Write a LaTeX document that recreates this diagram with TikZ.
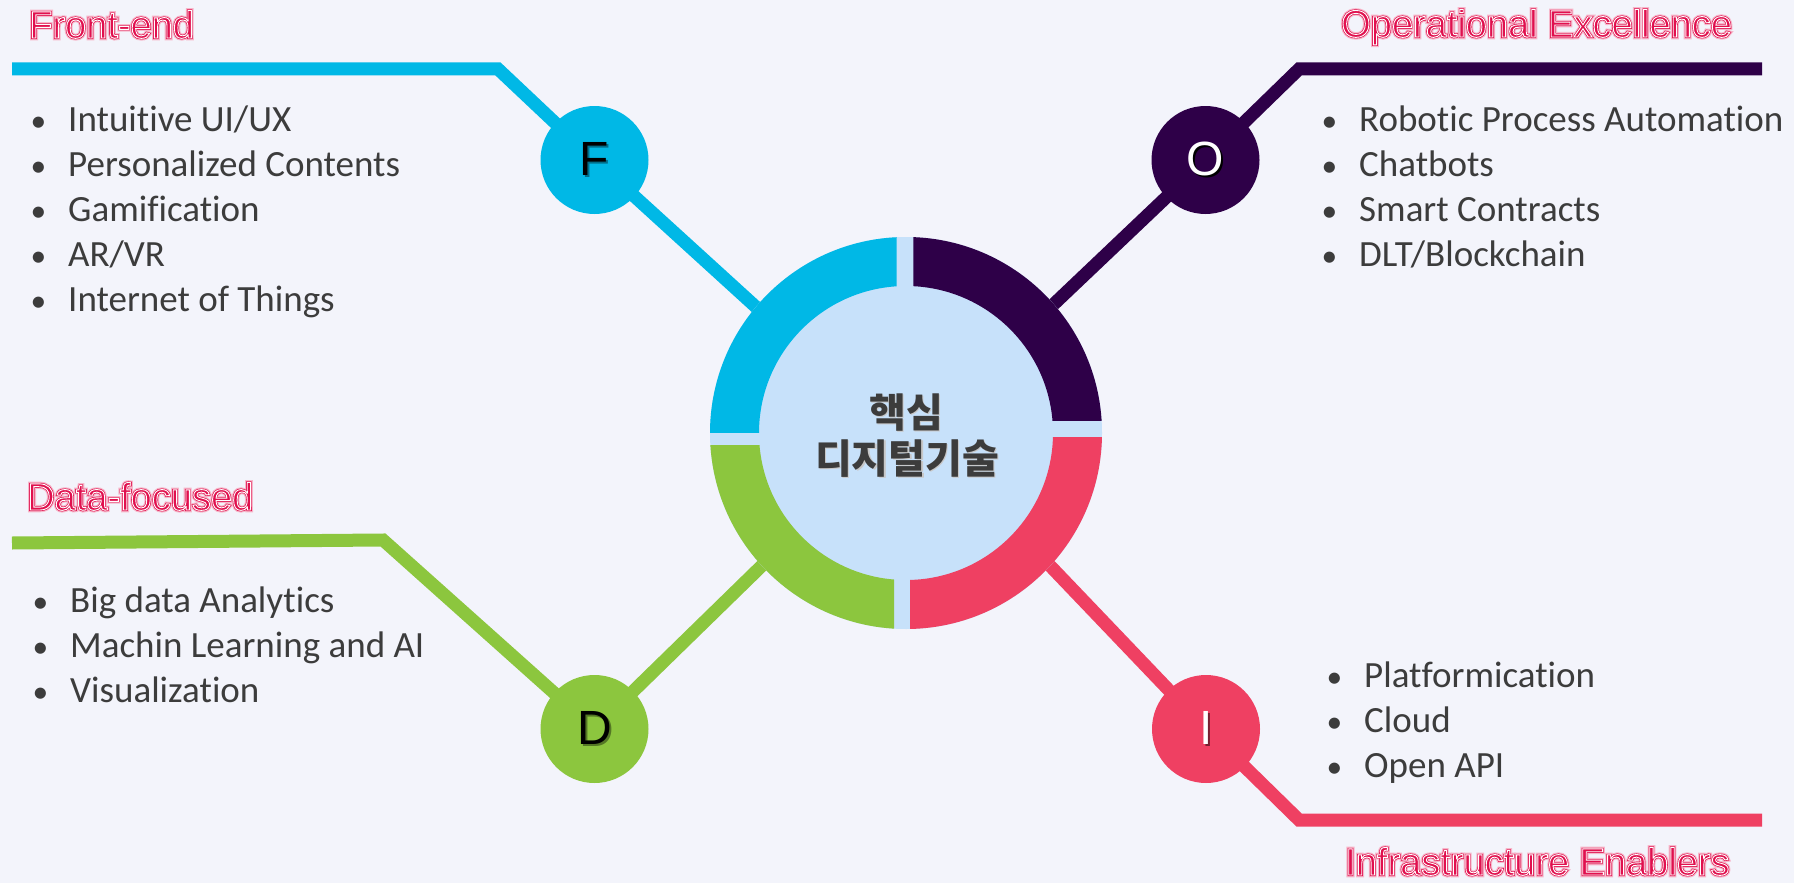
\documentclass[tikz,border=0pt]{standalone}
\usepackage{fontspec}
\setmainfont{Carlito}[Ligatures=NoCommon]
\newfontfamily\arialf{Liberation Sans}
\newfontfamily\kr{Noto Sans CJK KR}
\definecolor{bg}{HTML}{F3F4FB}
\definecolor{fcol}{HTML}{00B8E6}
\definecolor{ocol}{HTML}{2E0048}
\definecolor{icol}{HTML}{EF4062}
\definecolor{dcol}{HTML}{8CC63E}
\definecolor{inner}{HTML}{C7E1FA}
\definecolor{txtgray}{HTML}{3C3C3C}
\definecolor{titlered}{HTML}{E0104E}
\newcommand\bul{\makebox[0pt][r]{\scalebox{0.85}{\textbullet}\hspace{22pt}}}
\newcommand\shadowed[2]{\makebox[0pt][l]{\hspace{2pt}\raisebox{-2pt}{\textcolor{#1}{#2}}}#2}
% outlined word-art title: pink glow, red rim, white inner line, red fill
\newcommand\strokedtext[3]{\special{pdf:literal direct 2 Tr #2 w #3}#1\special{pdf:literal direct 0 Tr}}
\newcommand\wordart[1]{%
  \makebox[0pt][l]{\textcolor{titlered!30}{\strokedtext{#1}{4.5}{}}}%
  \makebox[0pt][l]{\strokedtext{#1}{2.2}{}}%
  \strokedtext{#1}{0.9}{1 1 1 RG}}
\begin{document}
\begin{tikzpicture}[x=1pt,y=-1pt,
  branch/.style={line width=13pt, line join=miter, line cap=butt},
  bubble/.style={circle, minimum size=108pt, inner sep=0pt, font=\arialf\fontsize{48}{58}\selectfont},
  item/.style={anchor=base west, inner sep=0pt, text=txtgray, font=\fontsize{37}{44}\selectfont},
  ttl/.style={anchor=base west, inner sep=0pt, text=titlered, font=\arialf\fontsize{38}{46}\selectfont},
  core/.style={anchor=base, inner sep=0pt, text=txtgray, font=\kr\bfseries\fontsize{40}{48}\selectfont}]
\useasboundingbox[fill=bg] (0,0) rectangle (1794,883);

% key points
\coordinate (cF) at (594.5,160);
\coordinate (cO) at (1205.5,160);
\coordinate (cD) at (594.5,729);
\coordinate (cI) at (1206,729);
\coordinate (ctr) at (906,433);
\coordinate (fL) at (12,69);   \coordinate (fB) at (498,69);   \coordinate (fE) at (790,338);
\coordinate (oR) at (1762,69); \coordinate (oB) at (1299,69);  \coordinate (oE) at (1035,322);
\coordinate (iR) at (1762,820);\coordinate (iB) at (1299,820); \coordinate (iE) at (1035,550);
\coordinate (dL) at (12,543);  \coordinate (dB) at (383,540);  \coordinate (dE) at (780,548);

% branches
\draw[branch, fcol] (fL) -- (fB) -- (cF) -- (fE);
\draw[branch, ocol] (oR) -- (oB) -- (cO) -- (oE);
\draw[branch, icol] (iR) -- (iB) -- (cI) -- (iE);
\draw[branch, dcol] (dL) -- (dB) -- (cD) -- (dE);

% central ring
\node[circle, fill=inner, minimum size=392pt, inner sep=0pt] (ring) at (ctr) {};
\begin{scope}
  \clip (600,130) rectangle (896.7,432.7);
  \fill[fcol, even odd rule] (ctr) circle (196pt) (ctr) circle (147pt);
\end{scope}
\begin{scope}
  \clip (913.3,130) rectangle (1210,420);
  \fill[ocol, even odd rule] (ctr) circle (196pt) (ctr) circle (147pt);
\end{scope}
\begin{scope}
  \clip (910,437.3) rectangle (1210,740);
  \fill[icol, even odd rule] (ctr) circle (196pt) (ctr) circle (147pt);
\end{scope}
\begin{scope}
  \clip (600,445) rectangle (894,740);
  \fill[dcol, even odd rule] (ctr) circle (196pt) (ctr) circle (147pt);
\end{scope}
\node[core, text=black!22] at (907.5,428.5) {핵심};
\node[core, text=black!22] at (908.5,474.5) {디지털기술};
\node[core] (k1) at (906,427) {핵심};
\node[core] (k2) at (907,473) {디지털기술};

% bubbles
\node[bubble, fill=fcol, text=black] (F) at (cF) {\shadowed{fcol!60!black}{F}};
\node[bubble, fill=ocol, text=white] (O) at (cO) {\shadowed{black}{O}};
\node[bubble, fill=dcol, text=black] (D) at (cD) {\shadowed{dcol!60!black}{D}};
\node[bubble, fill=icol, text=white] (I) at (cI) {\shadowed{icol!50!black}{I}};

% lists
\node[item] (f1) at (68,131.7) {\bul Intuitive UI/UX};
\node[item] (f2) at (68,176.7) {\bul Personalized Contents};
\node[item] (f3) at (68,221.7) {\bul Gamification};
\node[item] (f4) at (68,266.7) {\bul AR/VR};
\node[item] (f5) at (68,311.7) {\bul Internet of Things};

\node[item] (o1) at (1359,131) {\bul Robotic Process Automation};
\node[item] (o2) at (1359,176) {\bul Chatbots};
\node[item] (o3) at (1359,221) {\bul Smart Contracts};
\node[item] (o4) at (1359,266) {\bul DLT/Blockchain};

\node[item] (d1) at (70,612.7) {\bul Big data Analytics};
\node[item] (d2) at (70,657.7) {\bul Machin Learning and AI};
\node[item] (d3) at (70,702.7) {\bul Visualization};

\node[item] (i1) at (1364,687.7) {\bul Platformication};
\node[item] (i2) at (1364,732.7) {\bul Cloud};
\node[item] (i3) at (1364,777.7) {\bul Open API};

% titles
\node[ttl] (tF) at (29,38) {\wordart{Front-end}};
\node[ttl] (tO) at (1341,37) {\wordart{Operational Excellence}};
\node[ttl] (tD) at (27,510) {\wordart{Data-focused}};
\node[ttl] (tI) at (1345,875) {\wordart{Infrastructure Enablers}};
\end{tikzpicture}
\end{document}
